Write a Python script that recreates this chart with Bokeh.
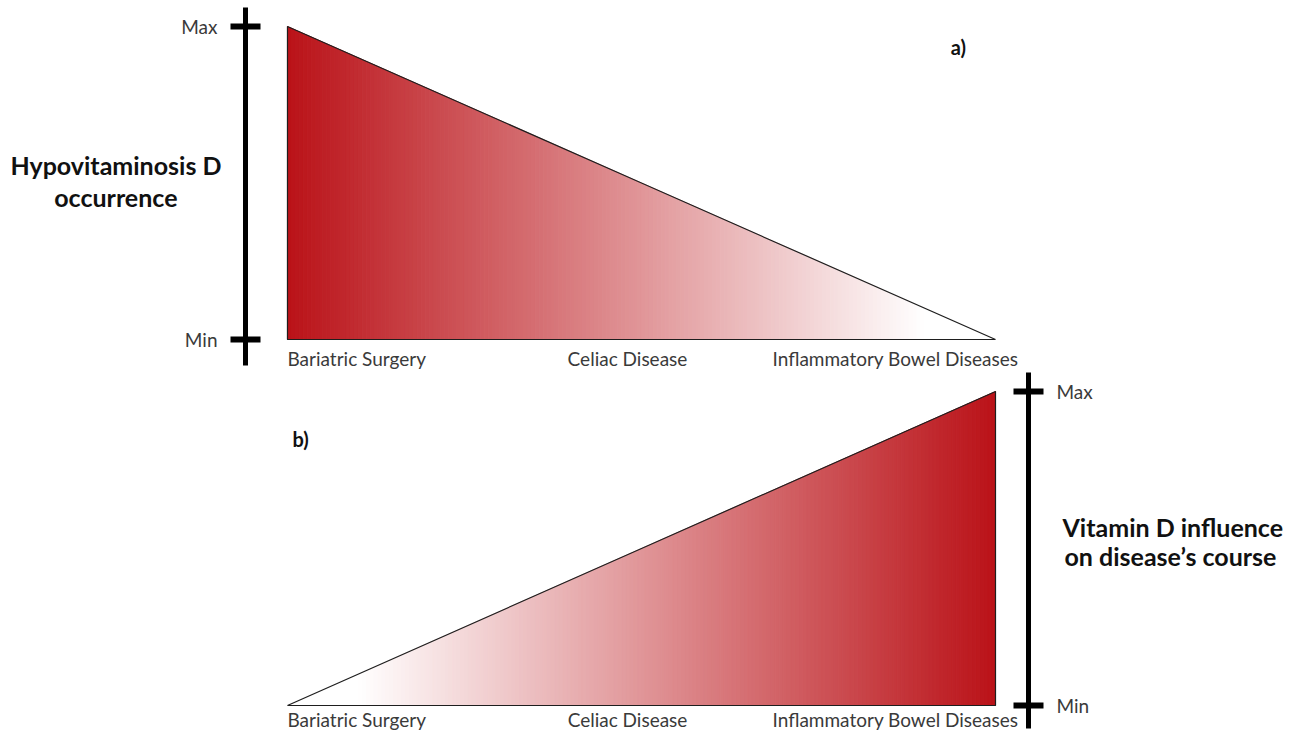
import numpy as np
from bokeh.plotting import figure
from bokeh.models import Range1d, LinearAxis, FixedTicker, ColumnDataSource
from bokeh.layouts import column
from bokeh.embed import file_html
from bokeh.resources import INLINE
from bokeh.core.properties import value

# ---------------- data ----------------
categories = ["Bariatric Surgery", "Celiac Disease", "Inflammatory Bowel Diseases"]
hypovitaminosis_occurrence = [1.0, 0.5, 0.0]   # panel a: Max -> Min
vitamin_d_influence = [0.0, 0.5, 1.0]          # panel b: Min -> Max
scale_ticks = [0, 1]
scale_labels = {0: "Min", 1: "Max"}
panel_a_title = ["Hypovitaminosis D", "occurrence"]
panel_b_title = ["Vitamin D influence", "on disease\u2019s course"]

# ---------------- style / layout ----------------
FONT = "Lato"
RED = np.array([186, 18, 24])
WHITE = np.array([255, 255, 255])
N_STRIPS = 180
label_align = ["left", "center", "right"]
label_xoff = [0, -14, 23]


def mix(frac):
    t = min(frac / 0.9, 1.0)
    c = RED + (WHITE - RED) * t
    return "#%02x%02x%02x" % tuple(int(round(v)) for v in c)


def draw_wedge(p, vals, red_at_left, label_yoff):
    idx = np.arange(len(vals), dtype=float)
    edges = np.linspace(idx[0], idx[-1], N_STRIPS + 1)
    tops = np.interp(edges, idx, vals)
    xs, ys, cols = [], [], []
    for i in range(N_STRIPS):
        x0, x1 = edges[i], edges[i + 1]
        xs.append([x0, x0, x1, x1])
        ys.append([0, tops[i], tops[i + 1], 0])
        mid = (x0 + x1) / 2 / idx[-1]
        frac = mid if red_at_left else 1 - mid
        cols.append(mix(frac))
    p.patches(xs, ys, fill_color=cols, line_color=cols, line_width=1)
    ox = [idx[0]] + list(idx) + [idx[-1]]
    oy = [0] + list(vals) + [0]
    p.patch(ox, oy, fill_alpha=0, line_color="#1e1e1e", line_width=1.2)
    src = ColumnDataSource(dict(x=idx, y=[0] * len(vals), text=categories,
                                align=label_align, xoff=label_xoff))
    p.text(x="x", y="y", text="text", source=src, text_align="align",
           x_offset="xoff", y_offset=label_yoff, text_baseline="alphabetic",
           text_font=value(FONT), text_font_size="19px", text_color="#3a3a3a")


def scale_axis(bounds):
    ax = LinearAxis(ticker=FixedTicker(ticks=scale_ticks),
                    major_label_overrides=scale_labels, bounds=bounds)
    ax.axis_line_width = 5
    ax.axis_line_color = "black"
    ax.major_tick_line_width = 6
    ax.major_tick_line_color = "black"
    ax.major_tick_in = 15
    ax.major_tick_out = 15
    ax.minor_tick_line_color = None
    ax.minor_tick_in = 0
    ax.minor_tick_out = 0
    ax.major_label_standoff = 13
    ax.major_label_text_font = FONT
    ax.major_label_text_font_size = "19px"
    ax.major_label_text_color = "#3a3a3a"
    ax.major_label_orientation = "horizontal"
    return ax


def title_axis(y, text, standoff):
    ax = LinearAxis(ticker=FixedTicker(ticks=[y]), major_label_overrides={y: text})
    ax.axis_line_color = None
    ax.major_tick_line_color = None
    ax.minor_tick_line_color = None
    ax.major_tick_in = 0
    ax.major_tick_out = 0
    ax.minor_tick_in = 0
    ax.minor_tick_out = 0
    ax.major_label_standoff = standoff
    ax.major_label_text_font = FONT
    ax.major_label_text_font_style = "bold"
    ax.major_label_text_font_size = "25px"
    ax.major_label_text_color = "#111111"
    ax.major_label_orientation = "horizontal"
    return ax


def base_fig(h, xr, yr, bl, br):
    p = figure(width=1298, height=h, x_range=Range1d(*xr), y_range=Range1d(*yr),
               x_axis_location=None, y_axis_location=None,
               toolbar_location=None, output_backend="svg",
               min_border_left=bl, min_border_right=br,
               min_border_top=0, min_border_bottom=0, frame_align=False)
    p.grid.grid_line_color = None
    p.outline_line_color = None
    p.background_fill_color = "white"
    p.border_fill_color = "white"
    return p


# ---------------- panel a ----------------
pa = base_fig(372, (-0.1186, 2.856), (-0.1054, 1.0831), 245, 0)
draw_wedge(pa, hypovitaminosis_occurrence, True, 19)
pa.add_layout(scale_axis((-0.0831, 1.0607)), "left")
pa.add_layout(title_axis(0.558, panel_a_title[0], -43), "left")
pa.add_layout(title_axis(0.454, panel_a_title[1], -170), "left")
pa.text(x=[1.895], y=[0.936], text=["a)"], text_align="center", text_baseline="middle",
        text_font=value(FONT), text_font_style="bold", text_font_size="20px",
        text_color="#111111")

# ---------------- panel b ----------------
pb = base_fig(360, (-0.8107, 2.0932), (-0.086, 1.0605), 0, 270)
draw_wedge(pb, vitamin_d_influence, False, 14)
pb.add_layout(scale_axis((-0.0732, 1.0605)), "right")
pb.add_layout(title_axis(0.567, panel_b_title[0], -33), "right")
pb.add_layout(title_axis(0.475, panel_b_title[1], -222), "right")
pb.text(x=[0.037], y=[0.85], text=["b)"], text_align="center", text_baseline="middle",
        text_font=value(FONT), text_font_style="bold", text_font_size="20px",
        text_color="#111111")

layout = column(pa, pb, spacing=0)
open("out.html", "w").write(file_html(layout, INLINE))
